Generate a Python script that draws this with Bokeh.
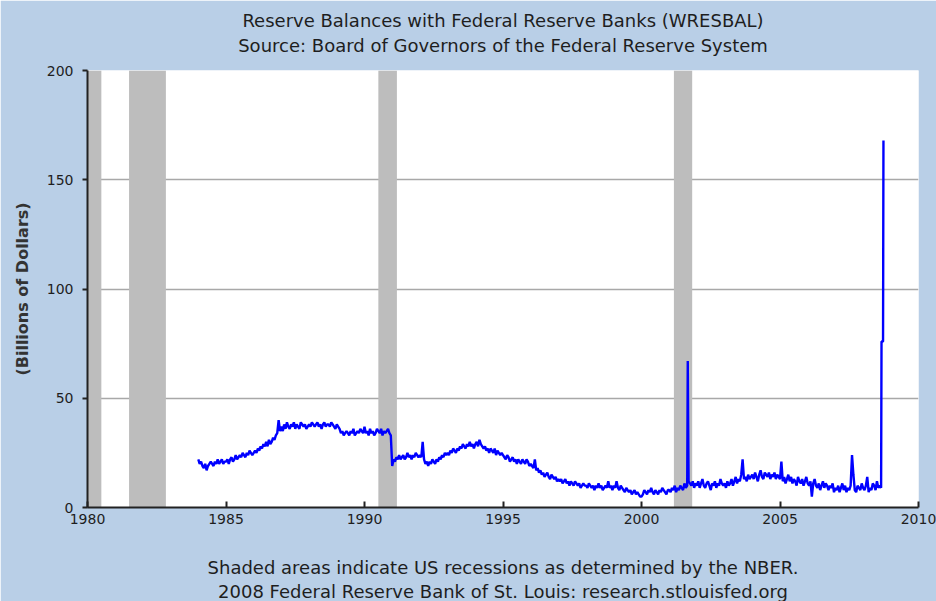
from bokeh.plotting import figure
from bokeh.models import Range1d, FixedTicker, Title, ColumnDataSource
from bokeh.embed import file_html
from bokeh.resources import INLINE

# ---------------- data ----------------
title_text = "Reserve Balances with Federal Reserve Banks (WRESBAL)"
subtitle_text = "Source: Board of Governors of the Federal Reserve System"
note_text = "Shaded areas indicate US recessions as determined by the NBER."
credit_text = "2008 Federal Reserve Bank of St. Louis: research.stlouisfed.org"
y_label = "(Billions of Dollars)"

x_ticks = [1980, 1985, 1990, 1995, 2000, 2005, 2010]
y_ticks = [0, 50, 100, 150, 200]

recession_start = [1980.0, 1981.5, 1990.5, 2001.17]
recession_end = [1980.5, 1982.83, 1991.17, 2001.83]

start_year = 1984.0
step_year = 0.05
reserves_base = (
    # 1984
    [22, 20, 21, 19, 18, 20, 17, 19, 20, 21, 20, 19, 21, 20, 22, 20, 21, 22, 20, 21]
    # 1985
    + [21, 22, 20, 22, 23, 21, 22, 24, 22, 23, 24, 23, 25, 24, 23, 25, 24, 26, 25, 24]
    # 1986
    + [25, 26, 25, 27, 26, 28, 27, 29, 28, 30, 28, 31, 29, 30, 32, 31, 33, 34, 40, 35]
    # 1987
    + [37, 35, 38, 36, 39, 37, 36, 38, 37, 39, 36, 38, 37, 36, 39, 38, 37, 38, 36, 37]
    # 1988
    + [38, 37, 39, 38, 37, 38, 39, 37, 38, 36, 38, 39, 37, 38, 38, 37, 39, 38, 37, 36]
    # 1989
    + [38, 37, 36, 34, 35, 33, 34, 35, 34, 33, 35, 34, 36, 33, 34, 35, 34, 36, 35, 34]
    # 1990
    + [37, 34, 35, 33, 36, 34, 35, 33, 34, 36, 35, 34, 36, 33, 35, 34, 35, 36, 34, 33]
    # 1991
    + [19, 22, 21, 23, 22, 24, 22, 23, 24, 22, 23, 25, 23, 24, 22, 24, 23, 25, 24, 23]
    # 1992
    + [24, 23, 30, 22, 20, 21, 19, 21, 20, 22, 21, 20, 22, 21, 23, 22, 24, 23, 25, 24]
    # 1993
    + [25, 24, 26, 25, 27, 26, 25, 27, 26, 28, 27, 29, 28, 27, 29, 28, 30, 28, 29, 27]
    # 1994
    + [29, 30, 28, 31, 29, 28, 27, 28, 26, 27, 25, 27, 26, 25, 27, 24, 26, 25, 24, 25]
    # 1995
    + [24, 23, 22, 24, 23, 21, 22, 23, 21, 22, 20, 22, 21, 20, 22, 21, 20, 22, 21, 19]
    # 1996
    + [20, 19, 18, 22, 17, 18, 16, 17, 15, 16, 14, 15, 16, 14, 13, 15, 14, 13, 14, 12]
    # 1997
    + [13, 12, 13, 11, 12, 13, 11, 12, 10, 12, 11, 10, 12, 11, 10, 11, 9, 10, 11, 10]
    # 1998
    + [10, 9, 11, 10, 9, 10, 8, 10, 9, 11, 9, 10, 8, 9, 10, 9, 12, 9, 10, 8]
    # 1999
    + [10, 9, 12, 9, 8, 10, 9, 8, 7, 9, 8, 7, 8, 6, 7, 8, 6, 7, 6, 5]
    # 2000
    + [5, 6, 8, 7, 6, 8, 7, 9, 7, 6, 8, 7, 6, 8, 7, 9, 8, 7, 6, 8]
    # 2001
    + [8, 7, 9, 8, 10, 7, 9, 8, 10, 9, 8, 11, 9, 10, 12, 11, 10, 12, 9, 11]
    # 2002
    + [10, 12, 9, 11, 13, 10, 9, 11, 12, 10, 8, 11, 10, 12, 9, 11, 10, 13, 11, 10]
    # 2003
    + [11, 9, 12, 10, 11, 13, 10, 12, 14, 11, 13, 12, 15, 22, 13, 14, 12, 15, 13, 14]
    # 2004
    + [15, 13, 16, 14, 12, 15, 17, 14, 13, 16, 15, 14, 16, 13, 15, 14, 16, 13, 15, 14]
    # 2005
    + [13, 21, 12, 14, 11, 13, 15, 12, 14, 11, 13, 12, 10, 14, 12, 11, 13, 10, 12, 14]
    # 2006
    + [11, 10, 12, 5, 11, 13, 10, 9, 11, 8, 10, 12, 9, 11, 10, 8, 10, 9, 11, 7]
    # 2007
    + [9, 8, 10, 7, 9, 11, 8, 10, 7, 9, 8, 10, 24, 15, 8, 7, 10, 9, 8, 11]
    # 2008 (to Aug)
    + [9, 8, 10, 14, 7, 9, 8, 11, 10, 8, 12, 9, 10, 9]
)
years_base = [round(start_year + step_year * i, 3) for i in range(len(reserves_base))]

# weekly event observations (Sept 2001 and autumn 2008)
event_years = [2001.67, 2001.685, 2001.695, 2008.665, 2008.72, 2008.735]
event_reserves = [67, 38, 20, 76, 76, 168]

pairs = sorted(zip(years_base + event_years, reserves_base + event_reserves))
years = [a for a, b in pairs]
reserves = [b for a, b in pairs]

# ---------------- figure ----------------
BG = "#b9cfe7"
FONT = "DejaVu Sans"
TXT = "#1e1e1e"

p = figure(width=936, height=601, output_backend="svg", toolbar_location=None,
           x_range=Range1d(1980, 2010), y_range=Range1d(0, 200),
           min_border_left=87, min_border_right=18, min_border_top=70,
           min_border_bottom=94, border_fill_color=BG,
           background_fill_color="white", outline_line_color=None)
p.title = None

rec = ColumnDataSource(dict(left=recession_start, right=recession_end,
                            bottom=[0] * len(recession_start),
                            top=[200] * len(recession_start)))
p.quad(left="left", right="right", bottom="bottom", top="top", source=rec,
       fill_color="#bdbdbd", line_color=None)

p.line(years, reserves, line_color="#0000ff", line_width=2.4)

p.xgrid.visible = False
p.ygrid.ticker = FixedTicker(ticks=y_ticks)
p.ygrid.grid_line_color = "#a8a8a8"
p.ygrid.grid_line_width = 1.5

p.xaxis.ticker = FixedTicker(ticks=x_ticks)
p.yaxis.ticker = FixedTicker(ticks=y_ticks)
for ax in (p.xaxis, p.yaxis):
    ax.axis_line_color = "#222222"
    ax.axis_line_width = 2
    ax.major_tick_line_color = "#222222"
    ax.major_tick_line_width = 2
    ax.minor_tick_line_color = None
    ax.major_label_text_font = FONT
    ax.major_label_text_font_size = "14px"
    ax.major_label_text_color = TXT

p.xaxis.major_tick_in = 6
p.xaxis.major_tick_out = 0
p.xaxis.major_label_standoff = 6
p.xaxis.axis_label = note_text
p.xaxis.axis_label_text_font = FONT
p.xaxis.axis_label_text_font_size = "18px"
p.xaxis.axis_label_text_font_style = "normal"
p.xaxis.axis_label_text_color = TXT
p.xaxis.axis_label_standoff = 30

p.yaxis.major_tick_in = 0
p.yaxis.major_tick_out = 5
p.yaxis.major_label_standoff = 9
p.yaxis.axis_label = y_label
p.yaxis.axis_label_text_font = FONT
p.yaxis.axis_label_text_font_size = "16px"
p.yaxis.axis_label_text_font_style = "bold"
p.yaxis.axis_label_text_color = "#333333"
p.yaxis.axis_label_standoff = 12

def add_title(text, place, standoff):
    p.add_layout(Title(text=text, align="center", text_font=FONT,
                       text_font_size="18px", text_font_style="normal",
                       text_color=TXT, standoff=standoff), place)

add_title(subtitle_text, "above", 30)
add_title(title_text, "above", -26)
add_title(credit_text, "below", -4)

open("out.html", "w").write(file_html(p, INLINE))
